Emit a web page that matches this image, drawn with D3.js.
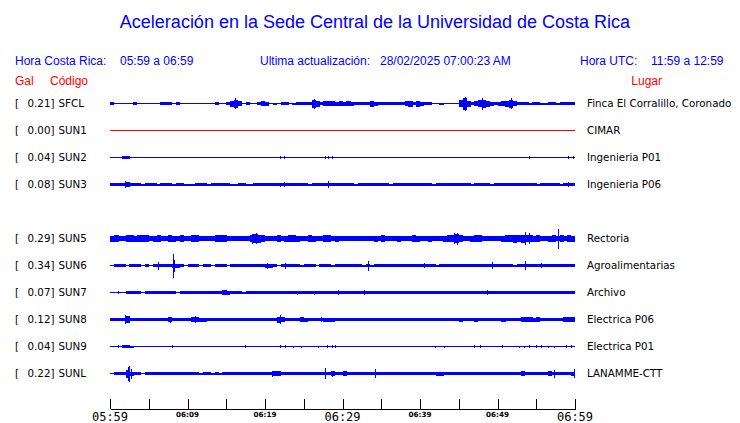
<!DOCTYPE html>
<html><head><meta charset="utf-8">
<script src="https://cdn.jsdelivr.net/npm/d3@7"></script>
<style>body{margin:0;background:#fff}svg{display:block}</style>
</head><body><svg id="c" width="740" height="423"></svg>
<script>
// ---------- data ----------
const titleText = "Aceleración en la Sede Central de la Universidad de Costa Rica";
const localRange = "05:59 a 06:59";
const utcRange = "11:59 a 12:59";
const updated = "28/02/2025 07:00:23 AM";

const slots = ["SFCL","SUN1","SUN2","SUN3","SUN4","SUN5","SUN6","SUN7","SUN8","SUN9","SUNL"];
const codes = ["SFCL","SUN1","SUN2","SUN3","SUN5","SUN6","SUN7","SUN8","SUN9","SUNL"];
const peaks = ["0.21","0.00","0.04","0.08","0.29","0.34","0.07","0.12","0.04","0.22"];
const places = ["Finca El Corralillo, Coronado","CIMAR","Ingenieria P01","Ingenieria P06","Rectoria","Agroalimentarias","Archivo","Electrica P06","Electrica P01","LANAMME-CTT"];
const inactive = ["SUN1"];

const tickLabels = ["05:59","","06:09","","06:19","","06:29","","06:39","","06:49","","06:59"];
const majorLabels = ["05:59","06:29","06:59"];

// envelope half-amplitudes, one value per 30 s (relative units)
const envSFCL = [1.2,0.5,0.5,0.7,0.5,0.5,1.2,0.5,0.5,0.5, 0.5,0.8,0.5,1.2,1.2,1.2,0.6,1.2,0.5,0.5,
 0.5,0.5,0.5,0.5,0.5,0.5,0.7,1.2,0.5,0.5, 1.3,3,4,2.5,0.8,1.5,0.6,0.5,1.5,2.5,
 2,0.5,1,0.5,1.3,1.3,0.5,1,1.2,1.2, 1.3,1.5,4,3,1.5,2.5,2.5,2.5,2,2.5,
 2,2.5,2,1.5,1.3,1.3,1.5,3,2,1.3, 1.3,1.3,1.3,1.3,1.5,1.8,2.5,3,1.8,3,
 2,1.5,1.3,0.5,0.8,1,0.8,0.6,0.5,0.6, 3.5,6,3,1.5,2.5,3.5,4,3,2,1.5,
 2,2.5,3,4,2.5,1.3,1.2,1.2,1,1.2, 1.5,1,1,1.2,1.5,1,1.3,1.3,1.3,1.3];
const envSUN1 = [0,0,0,0,0,0,0,0,0,0, 0,0,0,0,0,0,0,0,0,0, 0,0,0,0,0,0,0,0,0,0, 0,0,0,0,0,0,0,0,0,0,
 0,0,0,0,0,0,0,0,0,0, 0,0,0,0,0,0,0,0,0,0, 0,0,0,0,0,0,0,0,0,0, 0,0,0,0,0,0,0,0,0,0,
 0,0,0,0,0,0,0,0,0,0, 0,0,0,0,0,0,0,0,0,0, 0,0,0,0,0,0,0,0,0,0, 0,0,0,0,0,0,0,0,0,0];
const envSUN2 = [0.5,0.5,0.5,1.3,1.3,0.5,0.5,0.5,0.5,0.5, 0.5,0.5,0.5,0.5,0.5,0.5,0.5,0.5,0.5,0.5,
 0.5,0.5,0.5,0.5,0.5,0.5,0.5,0.5,0.5,0.5, 0.5,0.5,0.5,0.5,0.5,0.5,0.5,0.5,0.5,0.5,
 0.5,0.5,0.5,0.5,0.5,0.5,0.5,0.5,0.5,0.5, 0.5,0.5,0.5,0.5,0.5,0.5,0.5,0.5,0.5,0.5,
 0.5,0.5,0.5,0.5,0.5,0.5,0.5,0.5,0.5,0.5, 0.5,0.5,0.5,0.5,0.5,0.5,0.5,0.5,0.5,0.5,
 0.5,0.5,0.5,0.5,0.5,0.5,0.5,0.5,0.5,0.5, 0.5,0.5,0.5,0.5,0.5,0.5,0.5,0.5,0.5,0.5,
 0.5,0.5,0.5,0.5,0.5,0.5,0.5,0.5,0.5,0.5, 0.5,0.5,0.5,0.5,0.5,0.5,0.5,0.5,0.6,0.6];
const envSUN3 = [1.3,1.2,1.3,1.3,2.5,1.5,1.3,1.3,1.0,1.3, 1.3,1.3,1.0,1.3,1.3,1.3,1.0,1.3,1.3,1.0,
 1.0,1.0,1.3,1.3,1.3,1.0,1.3,1.3,1.3,1.3, 1.3,1.0,1.0,1.3,1.3,1.0,1.0,1.3,1.3,1.3,
 1.3,1.3,1.3,1.4,1.3,1.4,1.3,1.3,1.3,1.3, 1.3,1.0,1.3,1.3,1.3,1.4,1.4,1.3,1.3,1.3,
 1.3,1.3,1.3,1.0,1.3,1.3,1.3,1.3,1.3,1.3, 1.3,1.3,1.0,1.3,1.3,1.3,1.3,1.3,1.3,1.3,
 1.3,1.3,1.3,1.0,1.3,1.3,1.3,1.3,1.3,1.4, 1.3,1.3,1.3,1.0,1.3,1.3,1.3,1.3,1.0,1.3,
 1.3,1.3,1.3,1.3,1.3,1.3,1.3,1.3,1.3,1.3, 1.0,1.3,1.3,1.3,1.3,1.3,1.0,1.3,1.5,1.3];
const envSUN5 = [3,3.2,2.8,2.6,3.5,3.4,3,3.6,3.2,3.4, 2.8,3,3.2,2.6,2.6,3.6,3,2.4,3.4,2.8,
 2.6,3.4,3.6,2.8,2.4,2.6,2.8,3.2,3.4,3.2, 2.6,2.4,2.4,2.6,2.4,2.4,3.8,4.5,4,3.4,
 2.8,2.6,2.8,3.2,2.8,3,3.2,3.6,3,2.6, 2.6,3.2,3,2.8,2.6,3.2,3.4,2.8,3,2.8,
 2.6,2.6,2.4,2.6,2.8,2.6,2.6,2.6,3,2.8, 3.4,2.6,2.6,2.8,3,2.6,2.6,2.8,3.4,3,
 2.6,2.8,3,2.8,2.6,2.8,3,3.2,3.6,4.6, 3.8,2.8,2.6,3,3.6,3.4,2.8,2.6,2.8,2.6,
 2.8,3,3.6,3.8,4,3.6,4,3.2,3.4,3, 3.2,2.8,2.6,3,3.2,2.8,3.6,2.8,3.4,3];
const envSUN6 = [0.5,1.5,1.5,1.5,0.7,1.5,1.5,1.5,0.7,1.2, 0.6,1.3,1.8,1.8,1.8,1.8,2,2,1.5,0.7,
 1.8,1.6,1.8,0.7,1.5,1.5,0.8,1.4,1.2,1.5, 0.8,1.5,1.5,1.4,1.5,1.5,1.4,1.5,1.4,1.5,
 2,2,1.4,0.8,1.6,1.5,1.5,1.5,1.5,1.0, 1.5,1.5,1.4,0.8,1.5,1.5,1.5,1,1.5,1.5,
 1.5,1.6,1.6,1.5,1.8,1.0,1.4,1.0,1.5,1.5, 1.5,1.5,1.5,1.4,1.5,1.5,1.5,1.5,1.5,1.5,
 1.5,1.5,1.5,1.5,1.0,1.5,1.5,1.5,1.5,1.5, 1.5,1.5,1.5,1.4,1.5,1.5,1.5,1.4,1.5,1.6,
 1.5,1.5,1.5,1.5,1.0,1.5,1.8,1.5,1.5,1.6, 1.5,1.5,1.5,1.5,1.5,1.5,1.5,1.5,1.5,1.5];
const envSUN7 = [0.5,0.7,0.7,0.6,1.3,1.3,1.3,1.3,0.7,1.3, 1.3,1.3,1.3,1.3,1.3,1.3,1.3,0.7,1.3,1.3,
 1.4,1.4,1.4,1.4,1.4,1.6,1.5,1.5,1.5,2.2, 2.0,1.3,1.3,1.3,1.0,1.3,1.3,1.3,1.3,1.3,
 1.3,1.3,1.3,1.3,1.3,1.3,1.3,1.3,1.5,1.3, 1.3,1.3,1.5,1.3,1.3,1.3,1.3,1.3,1.6,1.3,
 1.3,1.3,1.3,1.3,1.4,1.3,1.3,1.3,1.3,1.3, 1.3,1.3,1.3,1.3,1.3,1.3,1.3,1.3,1.3,1.3,
 1.3,1.3,1.3,1.3,1.3,1.3,1.3,1.3,1.3,1.3, 1.3,1.3,1.3,1.3,1.3,1.3,1.3,1.4,1.3,1.3,
 1.3,1.3,1.3,1.3,1.3,1.3,1.3,1.3,1.3,1.3, 1.3,1.3,1.3,1.3,1.3,1.3,1.3,1.3,1.3,1.3];
const envSUN8 = [1.3,1.5,1.7,1.7,3.2,1.7,1.7,1.7,1.5,1.7, 1.7,1.7,1.7,1.7,1.7,2.5,1.7,1.7,1.7,1.7,
 1.7,2.8,2.6,2.0,2.0,1.7,1.7,1.7,1.7,1.7, 1.5,1.7,1.7,1.7,1.7,1.7,1.7,1.7,1.7,1.7,
 1.7,1.7,1.7,3.0,2.4,1.7,1.7,1.7,1.7,2.2, 2.0,1.7,1.7,1.7,1.7,2.0,2.0,2.0,1.7,1.7,
 1.7,1.7,1.7,1.7,1.7,1.7,1.7,1.5,1.7,1.7, 1.7,1.7,1.7,1.7,1.7,1.7,1.7,1.7,1.7,1.7,
 1.7,1.7,1.7,1.7,1.7,1.7,1.7,1.7,1.7,1.7, 2.0,1.9,1.7,1.7,2.0,1.7,1.7,1.7,1.7,1.7,
 1.7,2.0,1.7,1.7,1.7,1.7,2.4,2.5,2.2,2.0, 2.2,1.7,1.7,1.7,1.7,1.7,1.7,2.3,2.2,2.3];
const envSUN9 = [0.5,0.5,0.5,1.3,1.3,1.0,0.5,0.5,0.5,0.5, 0.5,0.5,0.5,0.5,0.5,0.5,0.5,0.5,0.5,0.5,
 0.5,0.5,0.5,0.5,0.5,0.5,0.5,0.5,0.5,0.5, 0.5,0.5,0.5,0.5,0.5,0.5,0.5,0.5,0.5,0.5,
 0.5,0.5,0.5,0.5,0.5,0.5,0.5,0.5,0.5,0.5, 0.5,0.5,0.5,0.5,0.5,0.5,0.5,0.5,0.5,0.5,
 0.5,0.5,0.5,0.5,0.5,0.5,0.5,0.5,0.5,0.5, 0.5,0.5,0.5,0.5,0.5,0.5,0.5,0.5,0.5,0.5,
 0.5,0.5,0.5,0.5,0.5,0.5,0.5,0.5,0.5,0.5, 0.5,0.5,0.5,0.5,0.5,0.5,0.5,0.5,0.5,0.5,
 0.5,0.5,0.5,0.5,0.5,0.5,0.5,0.5,0.5,0.5, 0.5,0.5,0.5,0.5,0.5,0.5,0.5,0.8,0.8,0.8];
const envSUNL = [0.5,1.3,1.3,1.5,4,2,1.5,1.3,0.8,1.3, 1.3,1.5,1.3,1.3,1.3,1.3,1.5,1.3,1.3,1.3,
 1.3,1.3,1.3,1.0,1.3,1.3,1.0,1.2,1.0,1.3, 1.2,1.3,1.5,1.5,1.5,1.5,1.5,1.5,1.5,1.5,
 1.5,1.6,2.6,2.2,1.7,1.7,1.7,1.7,1.7,1.7, 1.7,1.7,1.7,1.7,1.7,1.7,1.7,2.4,1.7,1.8,
 2.2,1.7,1.7,1.7,1.7,1.7,1.7,1.7,1.7,1.7, 1.7,1.7,1.7,1.7,1.7,1.7,1.7,1.7,1.7,1.7,
 1.7,1.7,1.7,1.9,2.0,2.0,1.9,1.7,1.7,1.7, 1.7,1.7,1.7,1.7,1.7,1.7,1.7,1.7,1.7,1.7,
 1.7,1.7,1.7,1.7,1.7,1.7,2.2,1.7,1.7,1.7, 1.7,1.7,1.7,2.2,1.7,1.7,1.7,1.7,1.7,2.0];

// short isolated spikes: [minutes after 05:59, half-amplitude]
const spkSFCL = [[16.1,5.5],[26.3,5],[45.8,7],[48.0,6],[51.7,5.5]];
const spkSUN1 = [];
const spkSUN2 = [[21.9,1.5],[22.4,1.5],[27.7,1.2],[28.15,1.5],[28.7,1.2],[43.5,0.9],[52.4,0.9],[54.1,1.2],[55.0,0.9],[57.1,0.9],[59.05,1.2],[59.7,1.2]];
const spkSUN3 = [[1.95,3.3],[21.9,2],[22.5,2.2],[28.1,3.3],[44.5,1.8],[54.1,1.8],[59.05,2.2]];
const spkSUN5 = [[1.0,3.6],[18.3,5],[18.9,5.5],[44.4,5.2],[44.8,6],[53.6,6.5],[54.0,5.5],[57.76,10]];
const spkSUN6 = [[6.25,4],[8.1,12],[8.3,6],[20.3,3],[22.6,3],[33.3,5],[40.5,2.5],[49.3,3.5],[53.6,4.8],[55.6,2.5]];
const spkSUN7 = [[1.0,1.2],[14.7,2.5],[24.1,2],[26.3,2],[29.4,2.5],[32.8,2.5],[48.7,2.2]];
const spkSUN8 = [[1.95,4.2],[7.8,3],[11.0,3.5],[21.9,4.2],[27.2,2.6],[54.1,2.8]];
const spkSUN9 = [[1.08,1.1],[7.97,1.3],[12.2,0.9],[14.35,0.9],[17.46,1.1],[18.6,0.9],[21.9,1.3],[22.6,1.3],[23.6,1],[24.6,1],[26.9,1],[28.0,1.1],[28.7,1.2],[29.0,1.1],[37.5,0.9],[41.9,1],[43.1,1],[47.0,1.3],[47.8,1.1],[48.5,0.9],[49.6,0.9],[50.6,1.2],[52.8,1],[53.4,1],[54.1,1.1],[55.0,1.2],[55.6,1.2],[56.5,1],[57.3,1],[58.8,1.2],[59.5,1.2]];
const spkSUNL = [[2.3,7],[2.5,8],[2.7,5],[20.9,3],[27.7,5.5],[28.7,3],[30.2,2.5],[34.2,4.5],[57.3,4],[59.9,4.5]];

const envelopes = {SFCL:envSFCL,SUN1:envSUN1,SUN2:envSUN2,SUN3:envSUN3,SUN5:envSUN5,SUN6:envSUN6,SUN7:envSUN7,SUN8:envSUN8,SUN9:envSUN9,SUNL:envSUNL};
const spikes = {SFCL:spkSFCL,SUN1:spkSUN1,SUN2:spkSUN2,SUN3:spkSUN3,SUN5:spkSUN5,SUN6:spkSUN6,SUN7:spkSUN7,SUN8:spkSUN8,SUN9:spkSUN9,SUNL:spkSUNL};

// ---------- drawing ----------
const svg = d3.select("#c");
const BLUE = "#0000ff", RED = "#ff0000";
const sans = "'Liberation Sans', Arial, sans-serif";
const dj = "'DejaVu Sans', sans-serif";

const tStart = new Date(2025,1,28,5,59,0), tEnd = new Date(2025,1,28,6,59,0);
const x = d3.scaleTime().domain([tStart,tEnd]).range([110,575]);
const y = d3.scalePoint().domain(slots).range([103.5,373.5]);
const amp = d3.scaleLinear().domain([0,1]).range([0,1]);
const at = m => new Date(tStart.getTime() + m*60000);

svg.append("text").attr("x",375).attr("y",28).attr("text-anchor","middle")
  .attr("font-family",sans).attr("font-size",18).attr("fill",BLUE).text(titleText);

const hdr = [[15,"Hora Costa Rica:"],[120,localRange],[260,"Ultima actualización:"],[380,updated],[580,"Hora UTC:"],[651,utcRange]];
svg.selectAll("text.hdr").data(hdr).join("text").attr("class","hdr")
  .attr("x",d=>d[0]).attr("y",65).attr("font-family",sans).attr("font-size",12).attr("fill",BLUE).text(d=>d[1]);
const hdr2 = [[15,"Gal","start"],[50,"Código","start"],[662,"Lugar","end"]];
svg.selectAll("text.hdr2").data(hdr2).join("text").attr("class","hdr2")
  .attr("x",d=>d[0]).attr("y",85).attr("text-anchor",d=>d[2]).attr("font-family",sans).attr("font-size",12).attr("fill",RED).text(d=>d[1]);

codes.forEach((c,i)=>{
  const yc = y(c);
  const col = inactive.includes(c) ? RED : BLUE;
  const g = svg.append("g").attr("shape-rendering","crispEdges");
  const env = envelopes[c];
  const bins = env.map((v,k)=>({a:at(k*0.5), b:at((k+1)*0.5), v}));
  g.selectAll("rect").data(bins).join("rect")
    .attr("x",d=>x(d.a)).attr("width",d=>x(d.b)-x(d.a)+0.3)
    .attr("y",d=>yc-Math.max(amp(d.v),0.5)).attr("height",d=>2*Math.max(amp(d.v),0.5))
    .attr("fill",col);
  g.selectAll("line").data(spikes[c]).join("line")
    .attr("x1",d=>Math.round(x(at(d[0])))+0.5).attr("x2",d=>Math.round(x(at(d[0])))+0.5)
    .attr("y1",d=>yc-amp(d[1])).attr("y2",d=>yc+amp(d[1]))
    .attr("stroke",col).attr("stroke-width",1);
  svg.append("text").attr("x",15).attr("y",yc+3.7).attr("font-family",dj).attr("font-size",10.3).attr("fill","#000").text("[");
  svg.append("text").attr("x",54.5).attr("y",yc+3.7).attr("text-anchor","end").attr("font-family",dj).attr("font-size",10.3).attr("fill","#000").text(peaks[i]+"]");
  svg.append("text").attr("x",58.5).attr("y",yc+3.7).attr("font-family",dj).attr("font-size",10.3).attr("fill","#000").text(c);
  svg.append("text").attr("x",587).attr("y",yc+3.7).attr("font-family",dj).attr("font-size",10.3).attr("fill","#000").text(places[i]);
});

// time axis
const tickVals = tickLabels.map((_,k)=>at(k*5));
const axis = d3.axisTop(x).tickValues(tickVals).tickSize(10).tickSizeOuter(0).tickFormat("");
const ag = svg.append("g").attr("transform","translate(0,409)").attr("shape-rendering","crispEdges").call(axis);
ag.select(".domain").attr("stroke","#000");
ag.selectAll(".tick line").attr("stroke","#000");
svg.selectAll("text.tl").data(tickVals.map((t,k)=>({t,l:tickLabels[k]})).filter(d=>d.l)).join("text").attr("class","tl")
  .attr("x",d=>x(d.t)).attr("text-anchor","middle")
  .attr("y",d=>majorLabels.includes(d.l)?420.5:416.5)
  .attr("font-family",d=>majorLabels.includes(d.l)?"'DejaVu Sans Mono', monospace":dj)
  .attr("font-size",d=>majorLabels.includes(d.l)?12:7.2)
  .attr("font-weight",d=>majorLabels.includes(d.l)?"normal":"bold")
  .attr("fill","#000").text(d=>d.l);
</script></body></html>
